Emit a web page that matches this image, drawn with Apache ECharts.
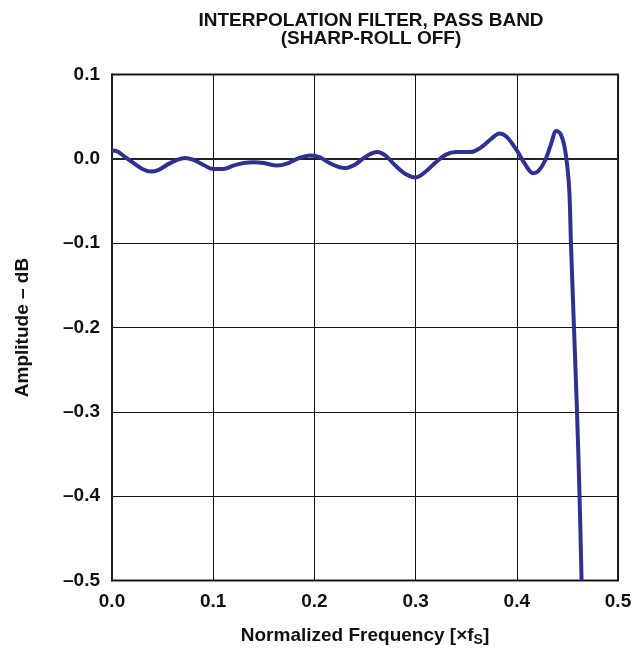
<!DOCTYPE html>
<html>
<head>
<meta charset="utf-8">
<script src="https://cdn.jsdelivr.net/npm/echarts@6/dist/echarts.min.js"></script>
<style>html,body{margin:0;padding:0;background:#fff;}#c{width:642px;height:649px;}</style>
</head>
<body>
<div id="c"></div>
<script>
const freq = [0.000,0.005,0.012,0.020,0.030,0.038,0.046,0.056,0.065,0.072,0.080,0.090,0.100,0.110,0.120,0.130,0.140,0.150,0.163,0.172,0.185,0.196,0.205,0.215,0.230,0.240,0.250,0.262,0.270,0.280,0.290,0.300,0.310,0.320,0.330,0.340,0.354,0.364,0.375,0.383,0.390,0.400,0.408,0.416,0.421,0.428,0.434,0.439,0.443,0.447,0.450,0.452,0.4535,0.4565,0.4595,0.462,0.464];
const amplitude = [0.010,0.009,0.003,-0.004,-0.012,-0.015,-0.013,-0.006,-0.001,0.001,-0.001,-0.007,-0.012,-0.012,-0.008,-0.005,-0.004,-0.005,-0.008,-0.006,0.001,0.004,0.002,-0.005,-0.011,-0.007,0.002,0.008,0.004,-0.008,-0.018,-0.022,-0.015,-0.004,0.005,0.008,0.008,0.013,0.024,0.030,0.026,0.010,-0.006,-0.017,-0.015,-0.002,0.018,0.033,0.030,0.015,-0.010,-0.040,-0.100,-0.200,-0.300,-0.400,-0.500];
const xTicks = [0.0,0.1,0.2,0.3,0.4,0.5];
const yTicks = [0.1,0.0,-0.1,-0.2,-0.3,-0.4,-0.5];
const titleText = 'INTERPOLATION FILTER, PASS BAND\n(SHARP-ROLL OFF)';

const FONT = '"Liberation Sans", Arial, Helvetica, sans-serif';
const chart = echarts.init(document.getElementById('c'));
const fmt = v => { const s = Math.abs(v).toFixed(1); return v < -1e-9 ? '\u2013' + s : s; };
chart.setOption({
  animation: false,
  backgroundColor: '#fff',
  title: {
    text: titleText, left: 366, top: 7, textAlign: 'center',
    textStyle: { fontFamily: FONT, fontWeight: 'bold', fontSize: 19, color: '#111', lineHeight: 18 }
  },
  grid: { left: 112, right: 24, top: 74.5, bottom: 68.5, show: true, borderColor: '#222', borderWidth: 2,
    containLabel: false, outerBoundsMode: 'none' },
  xAxis: {
    type: 'value', min: 0, max: 0.5, interval: 0.1,
    axisLine: { show: true, lineStyle: { color: '#222', width: 2 } },
    axisTick: { show: false },
    splitLine: { show: true, lineStyle: { color: '#111', width: 1 } },
    axisLabel: { formatter: v => fmt(v), fontFamily: FONT, fontWeight: 'bold', fontSize: 19, color: '#111', margin: 12 },
    name: 'Normalized Frequency [\u00d7f{s|S}]', nameLocation: 'middle', nameGap: 44,
    nameTextStyle: { fontFamily: FONT, fontWeight: 'bold', fontSize: 19, color: '#111',
      rich: { s: { fontFamily: FONT, fontWeight: 'bold', fontSize: 14, color: '#111', verticalAlign: 'bottom', padding: [9,0,0,0] } } }
  },
  yAxis: {
    type: 'value', min: -0.5, max: 0.1, interval: 0.1,
    axisLine: { show: true, lineStyle: { color: '#222', width: 2 } },
    axisTick: { show: false },
    splitLine: { show: true, lineStyle: { color: '#111', width: 1 } },
    axisLabel: { formatter: v => fmt(v), fontFamily: FONT, fontWeight: 'bold', fontSize: 19, color: '#111', margin: 12 },
    name: 'Amplitude \u2013 dB', nameLocation: 'middle', nameGap: 80, nameRotate: 90,
    nameTextStyle: { fontFamily: FONT, fontWeight: 'bold', fontSize: 19, color: '#111' }
  },
  series: [{
    type: 'line', data: freq.map((f, i) => [f, amplitude[i]]),
    showSymbol: false, smooth: 0.35, clip: true,
    lineStyle: { color: '#2E3192', width: 4 }
  }]
});
</script>
</body>
</html>
